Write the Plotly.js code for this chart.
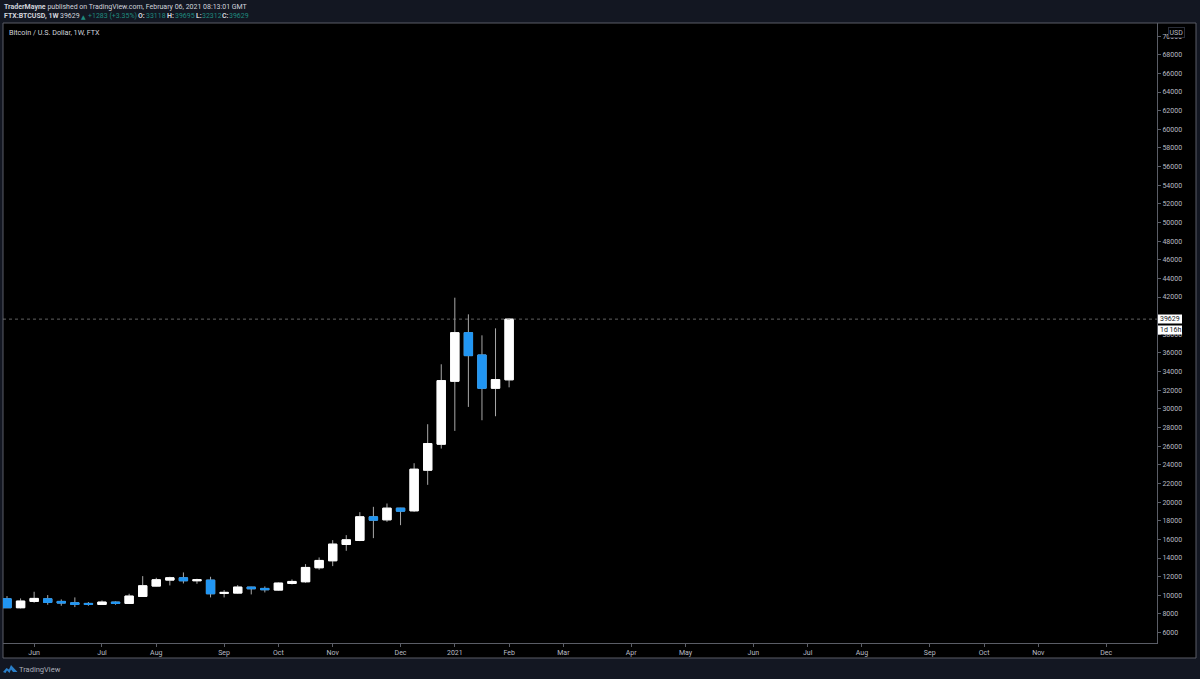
<!DOCTYPE html>
<html>
<head>
<meta charset="utf-8">
<script src="https://cdn.plot.ly/plotly-3.0.1.min.js"></script>
<style>
  html, body { margin: 0; padding: 0; background: #131722; }
  #chart { width: 1200px; height: 679px; }
</style>
</head>
<body>
<div id="chart"></div>
<script>
const weeks = ["2020-05-18","2020-05-25","2020-06-01","2020-06-08","2020-06-15","2020-06-22","2020-06-29","2020-07-06",
  "2020-07-13","2020-07-20","2020-07-27","2020-08-03","2020-08-10","2020-08-17","2020-08-24","2020-08-31",
  "2020-09-07","2020-09-14","2020-09-21","2020-09-28","2020-10-05","2020-10-12","2020-10-19","2020-10-26",
  "2020-11-02","2020-11-09","2020-11-16","2020-11-23","2020-11-30","2020-12-07","2020-12-14","2020-12-21",
  "2020-12-28","2021-01-04","2021-01-11","2021-01-18","2021-01-25","2021-02-01"];
const opens = [9627,8663,9342,9627,9342,9199,9127,9020,9270,9127,9878,10985,11628,11878,11557,11628,10199,10235,10878,10735,
  10556,11271,11450,12951,13701,15452,15881,18418,18096,19347,19060,23422,26209,32962,38178,35784,32211,33118];
const highs = [9913,9663,10378,10020,9556,9770,9270,9449,9342,10163,12057,11878,11986,12450,11771,11986,10556,11092,10914,10950,
  11378,11700,13344,14059,15917,16452,18918,19490,19847,19380,24170,28353,34784,41930,40143,37892,38643,39695];
const lows = [8663,8591,9199,8984,8877,8734,8877,8984,8984,9092,9842,10950,11057,11271,11235,9770,9770,10163,10092,10306,
  10485,11164,11343,12736,13130,14773,15809,16131,17882,17524,18954,21850,25744,27638,30210,28781,29210,32312];
const closes = [8663,9377,9663,9235,9163,9020,9020,9270,9127,9913,11021,11664,11878,11557,11664,10163,10306,10878,10699,10592,
  11307,11485,12987,13737,15488,15952,18418,18060,19347,19025,23527,26280,33033,38178,35713,32211,33140,39629];

const tickDates = ["2020-06-01","2020-07-06","2020-08-03","2020-09-07","2020-10-05","2020-11-02","2020-12-07","2021-01-04","2021-02-01",
  "2021-03-01","2021-04-05","2021-05-03","2021-06-07","2021-07-05","2021-08-02","2021-09-06","2021-10-04","2021-11-01","2021-12-06"];
const tickLabels = ["Jun","Jul","Aug","Sep","Oct","Nov","Dec","2021","Feb","Mar","Apr","May","Jun","Jul","Aug","Sep","Oct","Nov","Dec"];
const priceTicks = [6000,8000,10000,12000,14000,16000,18000,20000,22000,24000,26000,28000,30000,32000,34000,36000,38000,40000,
  42000,44000,46000,48000,50000,52000,54000,56000,58000,60000,62000,64000,66000,68000,70000];
// 40000 sits fully behind the price tag in the reference
const priceLabels = priceTicks.map(p => p === 40000 ? "" : String(p));

const lastPrice = closes[closes.length - 1];
const WHITE = "#ffffff", BLUE = "#2196f3", WICK = "#a8a8a8", FRAME = "#5a5d66";
const LABEL = "#b9bcc4", TEAL = "#1f8a7e", FONT = "Roboto, sans-serif";

// plot area in page pixels
const L = 3, R = 1157, T = 23, B = 643;
const px = x => (x - L) / (R - L);
const py = y => (B - y) / (B - T);

function label(x, y, text, opts) {
  return Object.assign({
    xref: "paper", yref: "paper", x: px(x), y: py(y), text: text, showarrow: false,
    xanchor: "left", yanchor: "middle", borderpad: 0, font: { family: FONT, size: 7, color: "#d1d4dc" }
  }, opts);
}
const tealFont = { font: { family: FONT, size: 7, color: TEAL } };

const annotations = [
  label(3, 6.5, "<b>TraderMayne</b> published on TradingView.com, February 06, 2021 08:13:01 GMT"),
  label(3, 16.5, "<b>FTX:BTCUSD, 1W</b>"),
  label(59, 16.5, String(lastPrice)),
  label(80, 16.5, "▲", { font: { family: "DejaVu Sans, sans-serif", size: 6, color: TEAL } }),
  label(87, 16.5, "+1283 (+3.35%)", tealFont),
  label(137, 16.5, "<b>O:</b>"),
  label(145, 16.5, "33118", tealFont),
  label(166, 16.5, "<b>H:</b>"),
  label(174, 16.5, "39695", tealFont),
  label(195, 16.5, "<b>L:</b>"),
  label(201, 16.5, "32312", tealFont),
  label(221, 16.5, "<b>C:</b>"),
  label(228, 16.5, String(lastPrice), tealFont),
  label(8, 32.5, "Bitcoin / U.S. Dollar, 1W, FTX", { font: { family: FONT, size: 7.2, color: "#d1d4dc" } }),
  label(1176, 32.5, "USD", { xanchor: "center", bgcolor: "#000000", bordercolor: "#2a2e39", borderwidth: 1, borderpad: 0.5, font: { family: FONT, size: 7, color: LABEL } }),
  label(1170, 319, String(lastPrice), { xanchor: "center", font: { family: FONT, size: 7, color: "#131722" } }),
  label(1170, 330, "1d 16h", { xanchor: "center", font: { family: FONT, size: 7, color: "#131722" } }),
  label(18, 669, "TradingView", { font: { family: FONT, size: 7.5, color: "#a9adb8" } })
];

const shapes = [
  // black panel with frame round the plot and both scales
  { type: "rect", xref: "paper", yref: "paper", layer: "below", x0: px(L), x1: px(1196), y0: py(658), y1: py(T),
    fillcolor: "#000000", line: { color: FRAME, width: 1 } },
  // last price line
  { type: "line", xref: "paper", yref: "y", x0: 0, x1: 1, y0: lastPrice, y1: lastPrice,
    line: { color: "#8a8a8a", width: 0.7, dash: "dot" } },
  // price tags on the scale
  { type: "rect", xref: "paper", yref: "paper", x0: px(1158), x1: px(1182), y0: py(323.5), y1: py(314.5), fillcolor: WHITE, line: { width: 0 } },
  { type: "rect", xref: "paper", yref: "paper", x0: px(1158), x1: px(1182), y0: py(334.5), y1: py(325.5), fillcolor: WHITE, line: { width: 0 } },
  // logo
  { type: "path", xref: "paper", yref: "paper", fillcolor: "#2a7fc9", line: { width: 0 },
    path: `M${px(3)},${py(672)} L${px(6.5)},${py(668)} L${px(9)},${py(669.5)} L${px(11)},${py(665)} L${px(17.5)},${py(672)} L${px(13)},${py(672)} L${px(11)},${py(669.5)} L${px(9.5)},${py(673)} L${px(7)},${py(670.5)} L${px(5.5)},${py(673)} Z` }
];

const bodyHigh = opens.map((o, i) => Math.max(o, closes[i]));
const bodyLow = opens.map((o, i) => Math.min(o, closes[i]));

const traces = [
  // wicks
  {
    type: "candlestick", x: weeks, open: opens, high: highs, low: lows, close: closes, whiskerwidth: 0,
    increasing: { line: { color: WICK, width: 1 }, fillcolor: WHITE },
    decreasing: { line: { color: WICK, width: 1 }, fillcolor: BLUE }
  },
  // bodies on top
  {
    type: "candlestick", x: weeks, open: opens, high: bodyHigh, low: bodyLow, close: closes, whiskerwidth: 0,
    increasing: { line: { color: WHITE, width: 1 }, fillcolor: WHITE },
    decreasing: { line: { color: BLUE, width: 1 }, fillcolor: BLUE }
  }
];

const layout = {
  width: 1200, height: 679,
  margin: { l: L, r: 1200 - R, t: T, b: 679 - B, pad: 0 },
  paper_bgcolor: "#131722", plot_bgcolor: "#000000",
  showlegend: false, boxgap: 0.12, hovermode: false,
  font: { family: FONT, size: 7, color: LABEL },
  xaxis: {
    type: "date", range: ["2020-05-15 22:30", "2022-01-01 05:00"], rangeslider: { visible: false },
    tickmode: "array", tickvals: tickDates, ticktext: tickLabels, tickangle: 0,
    showgrid: false, zeroline: false, showline: true, linecolor: FRAME, linewidth: 1,
    ticks: "outside", ticklen: 3, tickcolor: FRAME, tickfont: { family: FONT, size: 7, color: LABEL }
  },
  yaxis: {
    side: "right", range: [4880, 71403], tickmode: "array", tickvals: priceTicks, ticktext: priceLabels,
    showgrid: false, zeroline: false, showline: true, linecolor: FRAME, linewidth: 1,
    ticks: "outside", ticklen: 3, tickcolor: FRAME, tickfont: { family: FONT, size: 7, color: LABEL }
  },
  shapes: shapes,
  annotations: annotations
};

Plotly.newPlot("chart", traces, layout, { displayModeBar: false, staticPlot: true });
</script>
</body>
</html>
